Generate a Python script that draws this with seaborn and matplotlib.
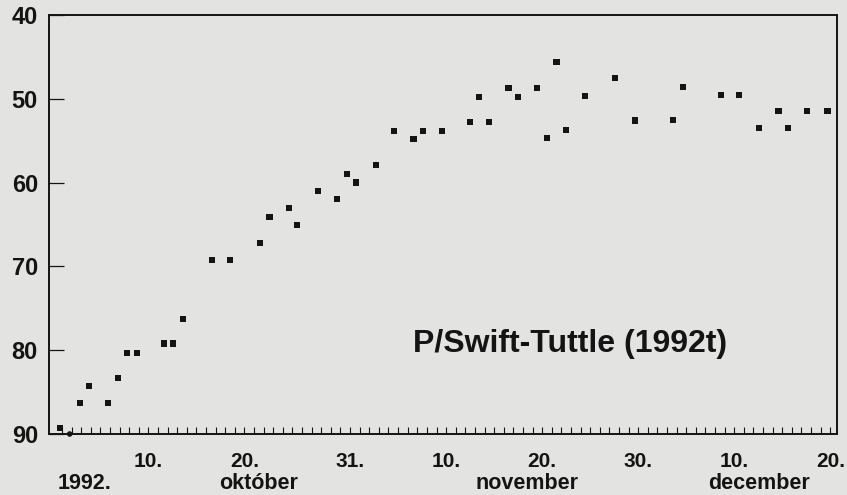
import matplotlib
matplotlib.use("Agg")
import matplotlib.pyplot as plt
import matplotlib.transforms as mtransforms
import seaborn as sns
import pandas as pd

# ---- data (day 1 = 1 October 1992) ----
days = [0.8, 2.9, 3.8, 5.8, 6.8, 7.8, 8.8, 11.6, 12.6, 13.6,
        16.6, 18.5, 21.6, 22.6, 24.6, 25.5, 27.7, 29.6, 30.7, 31.6,
        33.7, 35.6, 37.6, 38.6, 40.6, 43.5, 44.4, 45.5, 47.5, 48.5,
        50.5, 51.5, 52.5, 53.5, 55.5, 58.6, 60.7, 64.6, 65.7, 69.6,
        71.5, 73.6, 75.6, 76.6, 78.6, 80.7]
values = [89.3, 86.3, 84.3, 86.3, 83.3, 80.3, 80.3, 79.2, 79.2, 76.3,
          69.2, 69.2, 67.2, 64.1, 63.0, 65.1, 61.0, 62.0, 59.0, 60.0,
          57.9, 53.8, 54.8, 53.8, 53.8, 52.8, 49.8, 52.8, 48.7, 49.8,
          48.7, 54.7, 45.6, 53.7, 49.7, 47.5, 52.6, 52.5, 48.6, 49.5,
          49.5, 53.5, 51.5, 53.5, 51.5, 51.5]
extra_days = [1.8]
extra_values = [90.0]

y_ticks = [40, 50, 60, 70, 80, 90]
x_tick_days = [10, 20, 31, 41, 51, 61, 71, 81]
x_tick_labels = ["10.", "20.", "31.", "10.", "20.", "30.", "10.", "20."]
month_days = [3.4, 21.5, 49.4, 73.6]
month_labels = ["1992.", "október", "november", "december"]
title = "P/Swift-Tuttle (1992t)"

# ---- style ----
sns.set_theme(style="white")
plt.rcParams["font.family"] = ["Liberation Sans", "DejaVu Sans"]
paper = "#e3e3e1"
ink = "#141414"

fig = plt.figure(figsize=(8.47, 4.95), dpi=100, facecolor=paper)
ax = fig.add_axes([49 / 847, 61 / 495, 788 / 847, 419 / 495])
ax.set_facecolor(paper)

df = pd.DataFrame({"day": days, "value": values})
sns.scatterplot(data=df, x="day", y="value", marker="s", s=20,
                color=ink, edgecolor="none", linewidth=0, ax=ax, zorder=3)
dfe = pd.DataFrame({"day": extra_days, "value": extra_values})
sns.scatterplot(data=dfe, x="day", y="value", marker="o", s=16,
                color=ink, edgecolor="none", linewidth=0, ax=ax,
                zorder=4, clip_on=False)

ax.set_xlim(-0.35, 81.7)
ax.set_ylim(90, 40)
ax.set_xlabel("")
ax.set_ylabel("")

for side in ["left", "right", "top", "bottom"]:
    ax.spines[side].set_visible(True)
    ax.spines[side].set_color(ink)
    ax.spines[side].set_linewidth(1.4)

ax.set_yticks(y_ticks)
ax.set_yticklabels([str(v) for v in y_ticks], fontsize=17, fontweight="bold",
                   color=ink)
ax.tick_params(axis="y", direction="in", length=11, width=0.9, color=ink,
               pad=8, left=True, right=False)

ax.set_xticks(x_tick_days)
ax.set_xticklabels(x_tick_labels, fontsize=15, fontweight="bold", color=ink)
ax.set_xticks(list(range(1, 82)), minor=True)
ax.tick_params(axis="x", which="both", direction="in", length=5, width=0.8,
               color=ink, bottom=True, top=False)
ax.tick_params(axis="x", which="major", pad=13)

trans = mtransforms.blended_transform_factory(ax.transData, fig.transFigure)
for d, lab in zip(month_days, month_labels):
    ax.text(d, 0.012, lab, transform=trans, ha="center", va="baseline",
            fontsize=15.5, fontweight="bold", color=ink)

fig.text(570 / 847, 1 - 352 / 495, title, ha="center", va="baseline",
         fontsize=23, fontweight="bold", color=ink)

fig.savefig("out.png", dpi=100, facecolor=paper)
